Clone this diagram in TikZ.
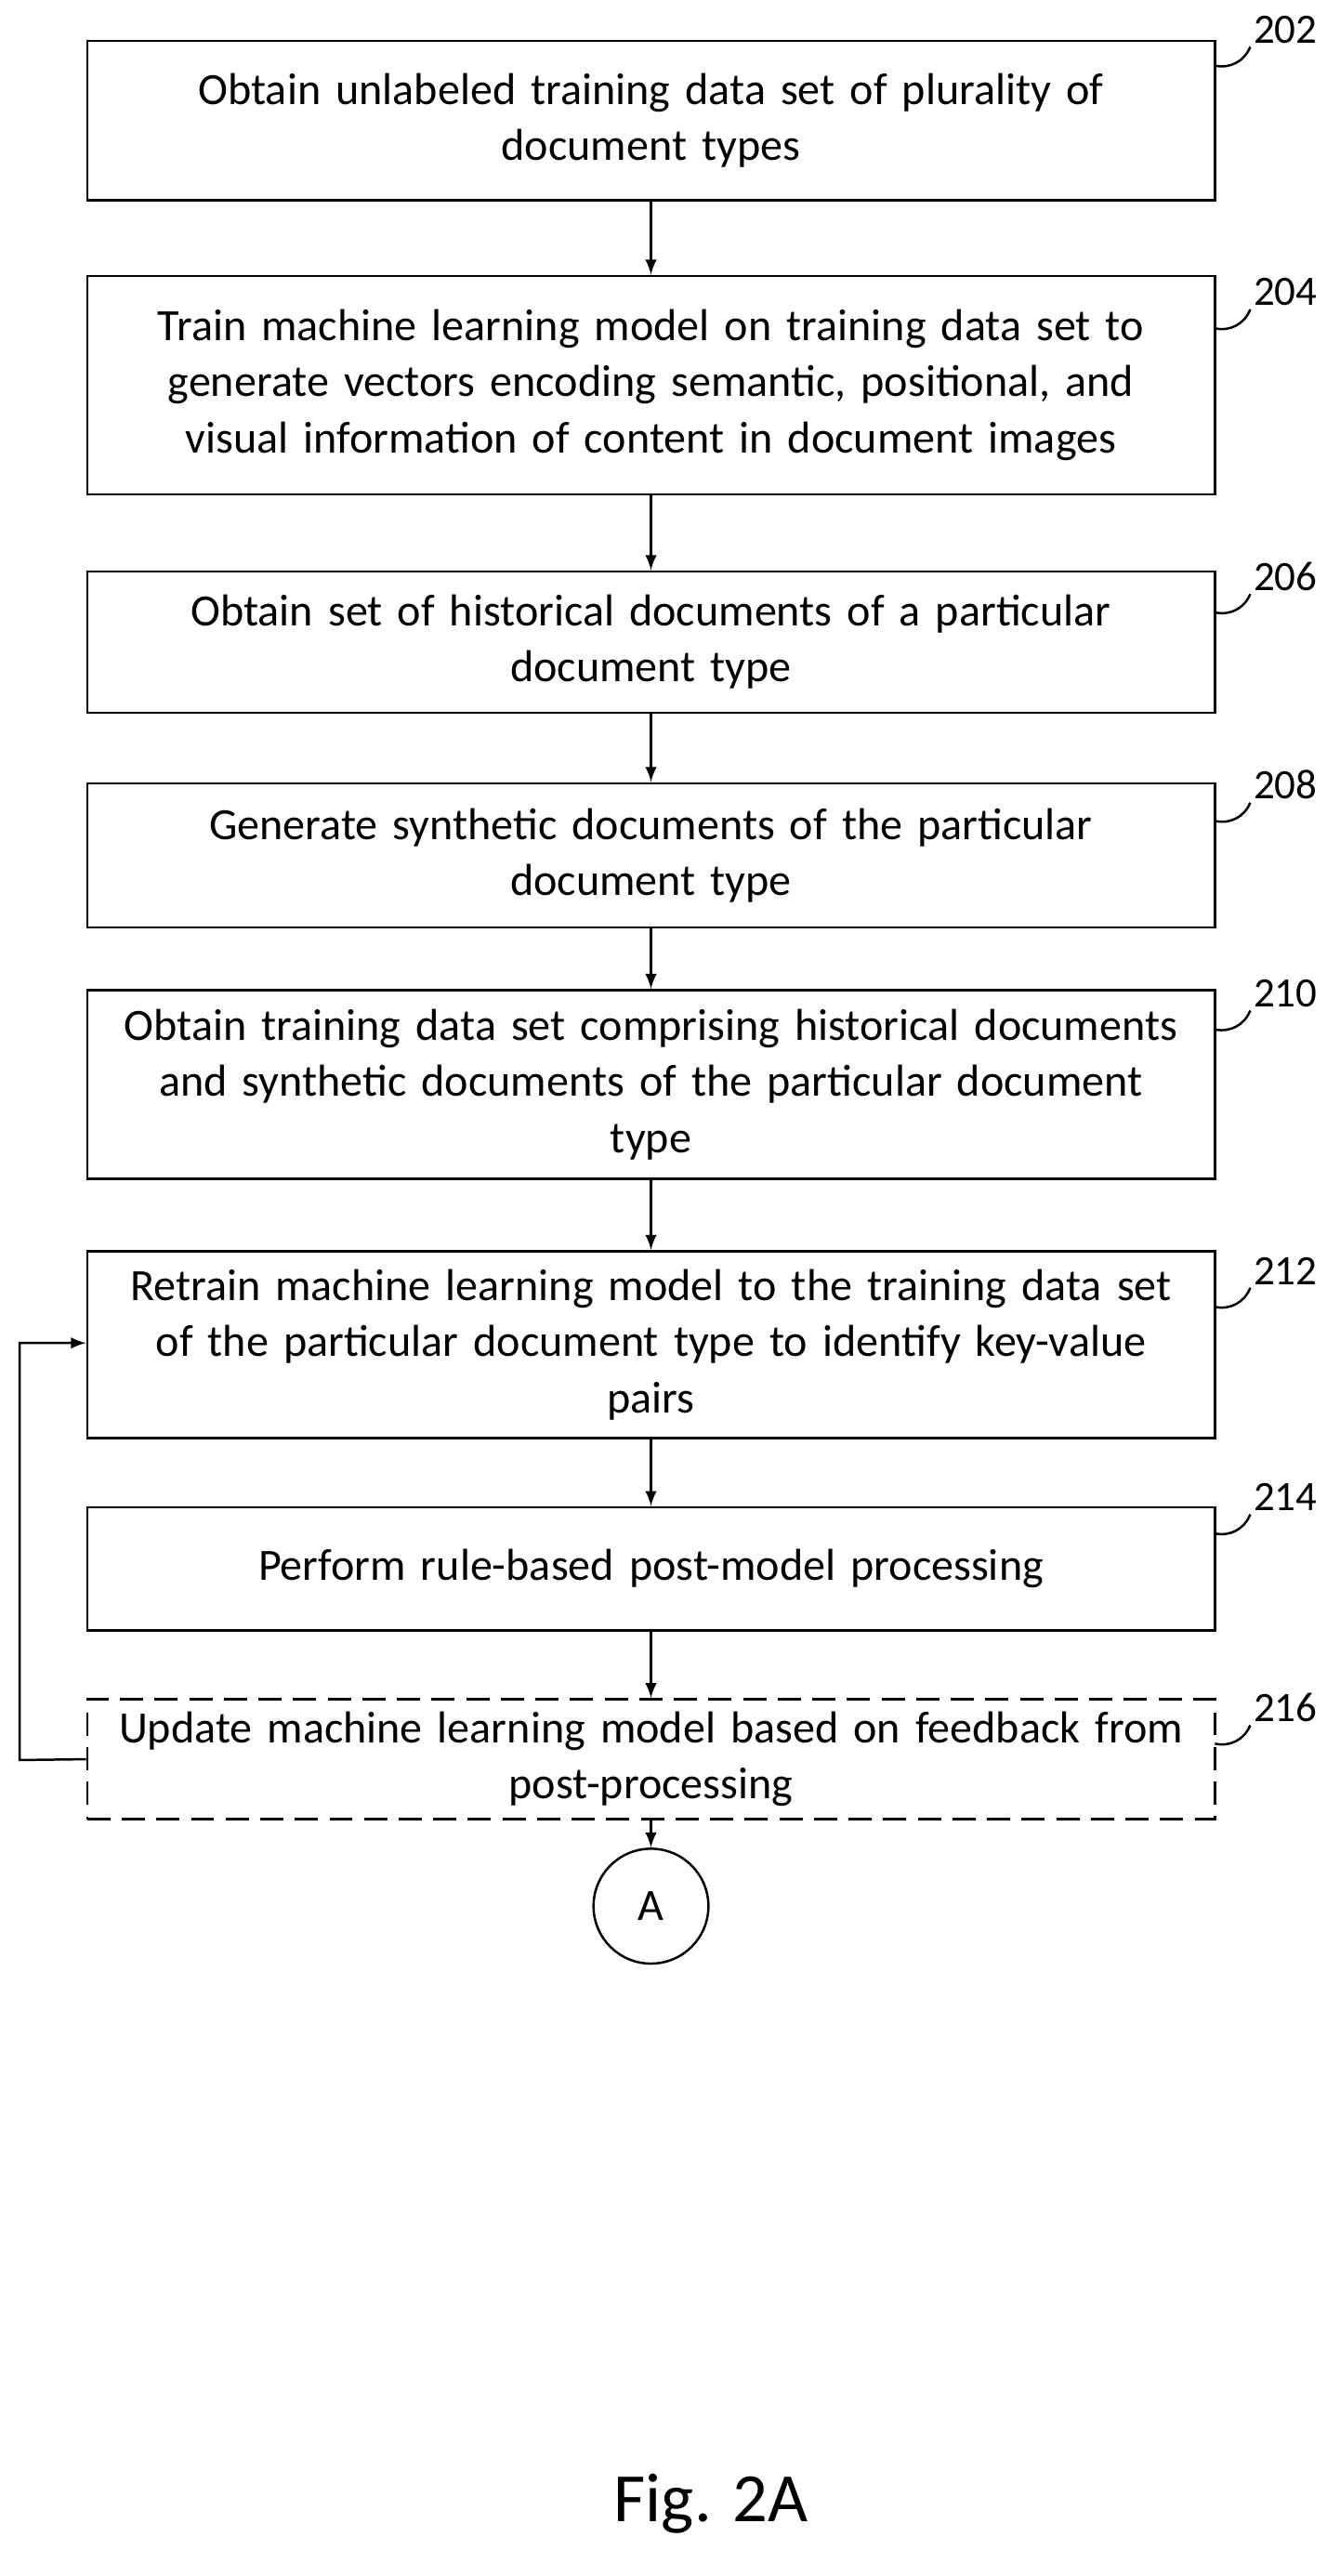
\documentclass[tikz,border=0pt]{standalone}
\usepackage{fontspec}
\setmainfont{Carlito}
\usetikzlibrary{positioning}
\begin{document}
\begin{tikzpicture}[x=0.02cm,y=-0.02cm]
  \tikzstyle{stepbox}=[draw=black,thick,rectangle,minimum width=13.74cm,align=center,
    text width=13.6cm,inner sep=0pt,font=\fontsize{15.5}{19.5}\selectfont]
  \tikzstyle{num}=[font=\fontsize{14.5}{16}\selectfont,inner sep=1pt]
  \tikzstyle{flow}=[->,>=latex,thick]
  \useasboundingbox (0,0) rectangle (808,1569);

  \node[stepbox,minimum height=1.94cm] (b202) at (396.5,73.5) {Obtain unlabeled training data set of plurality of\\document types};
  \node[stepbox,minimum height=2.66cm] (b204) at (396.5,234.5) {Train machine learning model on training data set to\\generate vectors encoding semantic, positional, and\\visual information of content in document images};
  \node[stepbox,minimum height=1.72cm] (b206) at (396.5,391) {Obtain set of historical documents of a particular\\document type};
  \node[stepbox,minimum height=1.76cm] (b208) at (396.5,521) {Generate synthetic documents of the particular\\document type};
  \node[stepbox,minimum height=2.30cm] (b210) at (396.5,660.5) {Obtain training data set comprising historical documents\\and synthetic documents of the particular document\\type};
  \node[stepbox,minimum height=2.28cm] (b212) at (396.5,819) {Retrain machine learning model to the training data set\\of the particular document type to identify key-value\\pairs};
  \node[stepbox,minimum height=1.50cm] (b214) at (396.5,955.5) {Perform rule-based post-model processing};
  \node[stepbox,dash pattern=on 8pt off 4pt,minimum height=1.46cm] (b216) at (396.5,1071.5) {Update machine learning model based on feedback from\\post-processing};
  \node[circle,draw=black,thick,minimum size=1.4cm,font=\fontsize{15.5}{16}\selectfont] (a) at (396.5,1161) {A};

  \node[font=\fontsize{24}{28}\selectfont] (fig) at (433,1525) {Fig. 2A};

  % step numbers
  \foreach \n/\y in {202/18,204/178,206/351,208/478,210/605,212/774,214/912,216/1040}{
    \node[num] (l\n) at (783,\y) {\n};
    \draw[thick] (740,\y+22) to[bend right=40] (l\n.south west);
  }

  % edges
  \draw[flow] (b202) -- (b204);
  \draw[flow] (b204) -- (b206);
  \draw[flow] (b206) -- (b208);
  \draw[flow] (b208) -- (b210);
  \draw[flow] (b210) -- (b212);
  \draw[flow] (b212) -- (b214);
  \draw[flow] (b214) -- (b216);
  \draw[flow] (b216) -- (a);
  \coordinate (fb) at (12,1072);
  \draw[flow] (b216.west) -- (fb) |- (b212.west |- 0,818);
\end{tikzpicture}
\end{document}
